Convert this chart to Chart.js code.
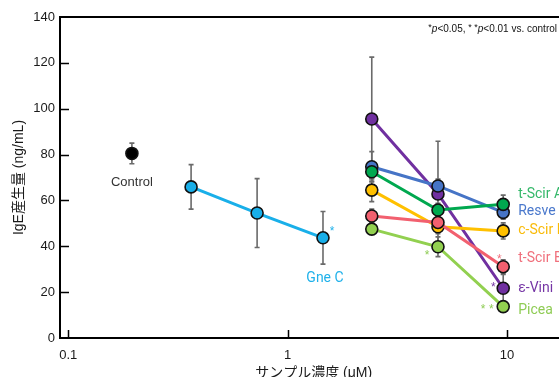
<!DOCTYPE html>
<html>
<head>
<meta charset="utf-8">
<script src="https://cdn.jsdelivr.net/npm/chart.js@4.4.1/dist/chart.umd.min.js"></script>
<style>
  html, body { margin: 0; padding: 0; background: #fff; overflow: hidden; width: 559px; height: 377px; }
  #wrap { position: absolute; left: 0; top: 0; width: 575px; height: 377px; }
</style>
</head>
<body>
<div id="wrap"><canvas id="c" width="575" height="377"></canvas></div>
<script>
// ---- axis ticks ----
const xTickValues = [0.1, 1, 10];
const xTickLabels = ['0.1', '1', '10'];
const yTickStep = 20;

// ---- series (dose in µM, IgE in ng/mL, SD) ----
const controlDose = [0.195];
const controlMean = [80.5];
const controlErr  = [4.5];

const gneDose = [0.363, 0.726, 1.45];
const gneMean = [65.9, 54.5, 43.7];
const gneErr  = [9.7, 15, 11.5];

const stilbeneDose = [2.42, 4.85, 9.62];
const tScirAMean = [72.5, 55.8, 58.3];
const tScirAErr  = [3, 3, 4];
const resveMean  = [74.7, 66.3, 54.8];
const resveErr   = [6.6, 3, 3];
const cScirBMean = [64.5, 48.5, 46.7];
const cScirBErr  = [5, 3, 3.5];
const tScirBMean = [53.2, 50.4, 31.1];
const tScirBErr  = [3, 3, 3];
const eViniMean  = [95.5, 62.8, 21.7];
const eViniErr   = [27, 23, 6];
const piceaMean  = [47.5, 39.8, 13.7];
const piceaErr   = [2, 4.3, 2];

// significance marks: [series name, point index, mark]
const sigMarks = [
  ['Gne C', 2, '*'],
  ['Picea', 1, '*'],
  ['t-Scir B', 2, '*'],
  ['ε-Vini', 2, '*'],
  ['Picea', 2, '* *']
];

const footnote = [['*', 'sup'], ['p', 'it'], ['<0.05, ', 'n'], ['* *', 'sup'], ['p', 'it'], ['<0.01 vs. control', 'n']];

// log-axis geometry: pixel of 0.1 from the plot's left edge, and px per decade
const X_FIRST_DECADE_OFFSET = 8.3;
const X_PX_PER_DECADE = 219.3;

function pts(xs, ys) { return xs.map((x, i) => ({ x, y: ys[i] })); }

// styling per series
const style = {
  'Control':  { line: '#000000', text: '#333333' },
  'Gne C':    { line: '#19afe9', text: '#1fb1ea' },
  't-Scir A': { line: '#00a84f', text: '#35b86a' },
  'Resve':    { line: '#4674c6', text: '#4a78cc' },
  'c-Scir B': { line: '#ffc000', text: '#f9bb08' },
  't-Scir B': { line: '#f2606f', text: '#f0707c' },
  'ε-Vini':   { line: '#7030a0', text: '#7535a5' },
  'Picea':    { line: '#92d050', text: '#8fcc55' }
};

function series(name, xs, ys, errs, showLine) {
  const s = style[name];
  return {
    label: name,
    data: pts(xs, ys),
    err: errs,
    showLine: showLine,
    borderColor: s.line,
    borderWidth: 3,
    pointRadius: 6,
    pointBorderWidth: 1.6,
    pointBorderColor: '#111111',
    pointBackgroundColor: s.line,
    tension: 0
  };
}

// earlier entries are drawn on top
const datasets = [
  series('Control', controlDose, controlMean, controlErr, false),
  series('Gne C', gneDose, gneMean, gneErr, true),
  series('Picea', stilbeneDose, piceaMean, piceaErr, true),
  series('t-Scir B', stilbeneDose, tScirBMean, tScirBErr, true),
  series('c-Scir B', stilbeneDose, cScirBMean, cScirBErr, true),
  series('t-Scir A', stilbeneDose, tScirAMean, tScirAErr, true),
  series('Resve', stilbeneDose, resveMean, resveErr, true),
  series('ε-Vini', stilbeneDose, eViniMean, eViniErr, true)
];

// name label placement relative to the last point of each series (px)
const nameLabels = {
  'Control':  { dx: 0,  dy: 29, align: 'center', font: '13px "Liberation Sans", Arial, sans-serif' },
  'Gne C':    { dx: 2,  dy: 41, align: 'center' },
  't-Scir A': { dx: 15, dy: -10, align: 'left' },
  'Resve':    { dx: 15, dy: -1, align: 'left' },
  'c-Scir B': { dx: 15, dy: 0, align: 'left' },
  't-Scir B': { dx: 15, dy: -8, align: 'left' },
  'ε-Vini':   { dx: 15, dy: 0, align: 'left' },
  'Picea':    { dx: 15, dy: 4, align: 'left' }
};
const sigOffsets = {
  'Gne C|2': [9, -10], 'Picea|1': [-11, 5], 't-Scir B|2': [-4, -11],
  'ε-Vini|2': [-10, -4], 'Picea|2': [-16, -1]
};

const overlay = {
  id: 'overlay',
  afterLayout(chart) {
    // pin the log axis so each decade has a fixed width
    const x = chart.scales.x, a = chart.chartArea;
    const logMin = -1 - X_FIRST_DECADE_OFFSET / X_PX_PER_DECADE;
    const logMax = logMin + (a.right - a.left) / X_PX_PER_DECADE;
    x.min = Math.pow(10, logMin);
    x.max = Math.pow(10, logMax);
    x.configure();
  },
  beforeDatasetsDraw(chart) {
    const { ctx, scales: { x, y } } = chart;
    ctx.save();
    ctx.strokeStyle = '#6a6a6a';
    ctx.lineWidth = 1.6;
    chart.data.datasets.forEach(ds => {
      ds.data.forEach((p, i) => {
        const e = ds.err[i];
        const px = x.getPixelForValue(p.x);
        const yt = y.getPixelForValue(p.y + e);
        const yb = y.getPixelForValue(p.y - e);
        ctx.beginPath();
        ctx.moveTo(px, yt); ctx.lineTo(px, yb);
        ctx.moveTo(px - 2.5, yt); ctx.lineTo(px + 2.5, yt);
        ctx.moveTo(px - 2.5, yb); ctx.lineTo(px + 2.5, yb);
        ctx.stroke();
      });
    });
    ctx.restore();
  },
  afterDraw(chart) {
    const { ctx, chartArea: a, scales: { x, y } } = chart;
    ctx.save();
    // top frame line
    ctx.strokeStyle = '#000';
    ctx.lineWidth = 2;
    ctx.beginPath();
    ctx.moveTo(a.left - 1, a.top); ctx.lineTo(chart.width, a.top);
    ctx.stroke();
    // inward tick marks
    ctx.lineWidth = 1.5;
    ctx.beginPath();
    xTickValues.forEach(v => {
      const px = Math.round(x.getPixelForValue(v)) + 0.5;
      ctx.moveTo(px, a.bottom); ctx.lineTo(px, a.bottom - 8);
    });
    for (let v = y.min + yTickStep; v < y.max; v += yTickStep) {
      const py = Math.round(y.getPixelForValue(v)) + 0.5;
      ctx.moveTo(a.left, py); ctx.lineTo(a.left + 9, py);
    }
    ctx.stroke();

    // series name labels
    ctx.textBaseline = 'middle';
    chart.data.datasets.forEach(ds => {
      const lab = nameLabels[ds.label];
      const last = ds.data[ds.data.length - 1];
      const px = x.getPixelForValue(last.x) + lab.dx;
      const py = y.getPixelForValue(last.y) + lab.dy;
      ctx.font = lab.font || '14px Roboto, "Noto Sans", sans-serif';
      ctx.fillStyle = style[ds.label].text;
      ctx.textAlign = lab.align;
      ctx.fillText(ds.label, px, py);
    });

    // significance asterisks
    ctx.textBaseline = 'alphabetic';
    ctx.textAlign = 'center';
    ctx.font = '12px "Liberation Sans", Arial, sans-serif';
    sigMarks.forEach(([name, idx, mark]) => {
      const ds = chart.data.datasets.find(d => d.label === name);
      const p = ds.data[idx];
      const off = sigOffsets[name + '|' + idx];
      const px = x.getPixelForValue(p.x) + off[0];
      const py = y.getPixelForValue(p.y) + off[1] + 7;
      ctx.fillStyle = style[name].text;
      ctx.fillText(mark, px, py);
    });

    // footnote
    const fonts = {
      n: '10px "Liberation Sans", Arial, sans-serif',
      it: 'italic 10px "Liberation Sans", Arial, sans-serif',
      sup: '9px "Liberation Sans", Arial, sans-serif'
    };
    let total = 0;
    footnote.forEach(([t, f]) => { ctx.font = fonts[f]; total += ctx.measureText(t).width; });
    let fx = 557 - total;
    const base = 31.5;
    ctx.fillStyle = '#111';
    ctx.textAlign = 'left';
    footnote.forEach(([t, f]) => {
      ctx.font = fonts[f];
      ctx.fillText(t, fx, f === 'sup' ? base - 1.5 : base);
      fx += ctx.measureText(t).width;
    });
    ctx.restore();
  }
};

const tickFont = { family: '"Liberation Sans", Arial, sans-serif', size: 13 };

new Chart(document.getElementById('c'), {
  type: 'line',
  data: { datasets },
  options: {
    responsive: false,
    animation: false,
    devicePixelRatio: 1,
    layout: { padding: { top: 17, right: 0, left: 0, bottom: 0 } },
    plugins: { legend: { display: false }, tooltip: { enabled: false } },
    scales: {
      x: {
        type: 'logarithmic',
        min: 0.09165,
        max: 18.6,
        afterBuildTicks: s => { s.ticks = xTickValues.map(v => ({ value: v })); },
        afterFit: s => { s.height = 39; s.paddingLeft = 0; s.paddingRight = 0; },
        grid: { drawOnChartArea: false, drawTicks: true, tickLength: 10, color: 'rgba(0,0,0,0)' },
        border: { display: true, color: '#000', width: 2 },
        ticks: {
          autoSkip: false, maxRotation: 0, minRotation: 0, padding: 0,
          color: '#1a1a1a', font: tickFont,
          callback: v => { const i = xTickValues.indexOf(v); return i >= 0 ? xTickLabels[i] : ''; }
        },
        title: {
          display: true, text: 'サンプル濃度 (μM)', color: '#1a1a1a',
          font: { family: '"Liberation Sans", "Noto Sans CJK JP", sans-serif', size: 14, lineHeight: 0.62 },
          padding: { top: 0, bottom: 0 }
        }
      },
      y: {
        min: 0,
        max: 140,
        afterFit: s => { s.width = 60; },
        grid: { drawOnChartArea: false, drawTicks: false },
        border: { display: true, color: '#000', width: 2 },
        ticks: { stepSize: yTickStep, padding: 5, color: '#1a1a1a', font: tickFont },
        title: {
          display: true, text: 'IgE産生量 (ng/mL)', color: '#1a1a1a',
          font: { family: '"Liberation Sans", "Noto Sans CJK JP", sans-serif', size: 14, lineHeight: 1.2 },
          padding: { top: 10.6, bottom: 0 }
        }
      }
    }
  },
  plugins: [overlay]
});
</script>
</body>
</html>
